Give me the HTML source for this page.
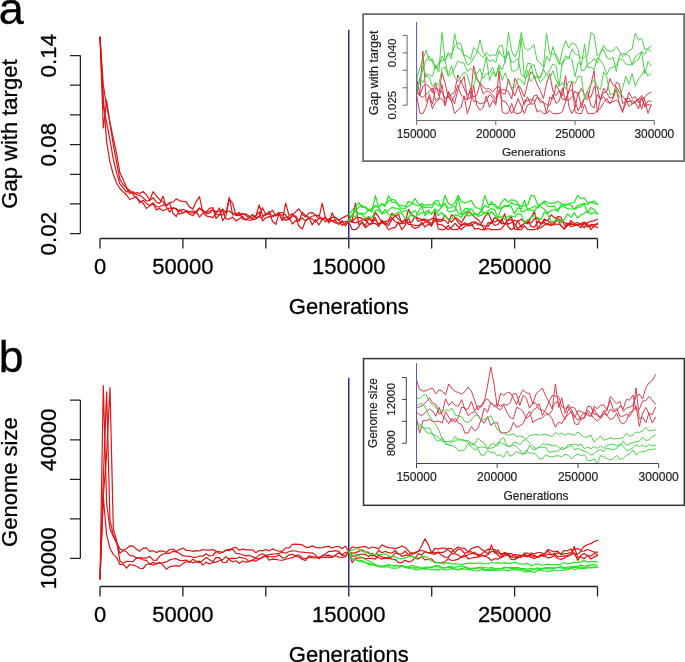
<!DOCTYPE html>
<html><head><meta charset="utf-8"><style>
html,body{margin:0;padding:0;background:#fff;overflow:hidden;}
svg{display:block;will-change:transform;}
text{font-family:"Liberation Sans", sans-serif;}
</style></head><body>
<svg width="685" height="662" viewBox="0 0 685 662" font-family='"Liberation Sans", sans-serif'><path d="M80.4,55.6 L80.4,233.6 M70,233.6 L80.4,233.6 M70,203.9 L80.4,203.9 M70,174.3 L80.4,174.3 M70,144.6 L80.4,144.6 M70,114.9 L80.4,114.9 M70,85.2 L80.4,85.2 M70,55.6 L80.4,55.6 M100.0,238.5 L597.5,238.5 M100.0,238.5 L100.0,248.5 M182.9,238.5 L182.9,248.5 M265.8,238.5 L265.8,248.5 M348.8,238.5 L348.8,248.5 M431.7,238.5 L431.7,248.5 M514.6,238.5 L514.6,248.5 M597.5,238.5 L597.5,248.5" stroke="#222" stroke-width="1.3" fill="none"/>
<text transform="translate(56.4,55.6) rotate(-90)" text-anchor="middle" font-size="22.4" fill="#000" stroke="#000" stroke-width="0.3">0.14</text>
<text transform="translate(56.4,144.6) rotate(-90)" text-anchor="middle" font-size="22.4" fill="#000" stroke="#000" stroke-width="0.3">0.08</text>
<text transform="translate(56.4,233.6) rotate(-90)" text-anchor="middle" font-size="22.4" fill="#000" stroke="#000" stroke-width="0.3">0.02</text>
<text transform="translate(16.9,134.1) rotate(-90)" text-anchor="middle" font-size="22" fill="#000" stroke="#000" stroke-width="0.3">Gap with target</text>
<text x="100.0" y="274.1" text-anchor="middle" font-size="22" fill="#000" stroke="#000" stroke-width="0.3">0</text>
<text x="182.9" y="274.1" text-anchor="middle" font-size="22" fill="#000" stroke="#000" stroke-width="0.3">50000</text>
<text x="348.8" y="274.1" text-anchor="middle" font-size="22" fill="#000" stroke="#000" stroke-width="0.3">150000</text>
<text x="514.6" y="274.1" text-anchor="middle" font-size="22" fill="#000" stroke="#000" stroke-width="0.3">250000</text>
<text x="348.75" y="313.6" text-anchor="middle" font-size="22" fill="#000" stroke="#000" stroke-width="0.3">Generations</text>
<path d="M348.75,29.7 L348.75,238.5" stroke="#2a2aaa" stroke-width="1.5"/>
<path d="M80.4,400.2 L80.4,558.4 M70,558.4 L80.4,558.4 M70,518.9 L80.4,518.9 M70,479.3 L80.4,479.3 M70,439.8 L80.4,439.8 M70,400.2 L80.4,400.2 M100.0,586.5 L597.5,586.5 M100.0,586.5 L100.0,596.5 M182.9,586.5 L182.9,596.5 M265.8,586.5 L265.8,596.5 M348.8,586.5 L348.8,596.5 M431.7,586.5 L431.7,596.5 M514.6,586.5 L514.6,596.5 M597.5,586.5 L597.5,596.5" stroke="#222" stroke-width="1.3" fill="none"/>
<text transform="translate(56.4,439.8) rotate(-90)" text-anchor="middle" font-size="22.4" fill="#000" stroke="#000" stroke-width="0.3">40000</text>
<text transform="translate(56.4,558.4) rotate(-90)" text-anchor="middle" font-size="22.4" fill="#000" stroke="#000" stroke-width="0.3">10000</text>
<text transform="translate(16.9,482.1) rotate(-90)" text-anchor="middle" font-size="22" fill="#000" stroke="#000" stroke-width="0.3">Genome size</text>
<text x="100.0" y="622.1" text-anchor="middle" font-size="22" fill="#000" stroke="#000" stroke-width="0.3">0</text>
<text x="182.9" y="622.1" text-anchor="middle" font-size="22" fill="#000" stroke="#000" stroke-width="0.3">50000</text>
<text x="348.8" y="622.1" text-anchor="middle" font-size="22" fill="#000" stroke="#000" stroke-width="0.3">150000</text>
<text x="514.6" y="622.1" text-anchor="middle" font-size="22" fill="#000" stroke="#000" stroke-width="0.3">250000</text>
<text x="348.75" y="661.6" text-anchor="middle" font-size="22" fill="#000" stroke="#000" stroke-width="0.3">Generations</text>
<path d="M348.75,377.7 L348.75,586.5" stroke="#2a2aaa" stroke-width="1.5"/>
<text x="-1.3" y="24.2" text-anchor="start" font-size="45" fill="#000" stroke="#000" stroke-width="0.3">a</text>
<text x="-1.2" y="372.0" text-anchor="start" font-size="44.5" fill="#000" stroke="#000" stroke-width="0.3">b</text>
<path d="M100.0,37.0 L103.3,128.0 L106.6,100.1 L110.0,123.8 L113.3,144.6 L116.6,162.4 L119.9,179.3 L123.2,184.7 L126.5,187.9 L129.8,193.6 L133.2,191.7 L136.5,194.7 L139.8,195.3 L143.1,197.7 L146.4,201.0 L149.8,200.4 L153.1,197.7 L156.4,202.2 L159.7,203.4 L163.0,196.2 L166.3,206.7 L169.7,212.1 L173.0,207.9 L176.3,209.1 L179.6,214.3 L182.9,212.7 L186.2,211.3 L189.6,214.3 L192.9,215.6 L196.2,211.3 L199.5,207.8 L202.8,210.3 L206.1,212.5 L209.4,211.3 L212.8,209.8 L216.1,211.8 L219.4,211.3 L222.7,209.0 L226.0,212.6 L229.3,197.4 L232.7,214.8 L236.0,215.0 L239.3,212.3 L242.6,219.2 L245.9,219.0 L249.2,220.3 L252.6,219.7 L255.9,219.1 L259.2,216.7 L262.5,217.7 L265.8,213.7 L269.1,214.0 L272.5,215.3 L275.8,215.6 L279.1,214.1 L282.4,220.7 L285.7,217.2 L289.1,216.8 L292.4,224.0 L295.7,220.7 L299.0,220.9 L302.3,218.0 L305.6,221.1 L308.9,218.4 L312.3,218.8 L315.6,222.1 L318.9,218.4 L322.2,203.2 L325.5,218.6 L328.9,220.9 L332.2,217.3 L335.5,217.1 L338.8,220.4 L342.1,218.1 L345.4,216.4 L348.8,214.9 L352.1,222.1 L355.4,218.2 L358.7,217.4 L362.0,218.3 L365.3,220.8 L368.7,216.8 L372.0,222.2 L375.3,212.3 L378.6,216.8 L381.9,222.8 L385.2,221.6 L388.5,220.5 L391.9,213.3 L395.2,216.4 L398.5,214.0 L401.8,223.4 L405.1,223.1 L408.4,209.4 L411.8,214.5 L415.1,217.0 L418.4,221.4 L421.7,220.3 L425.0,220.5 L428.4,221.8 L431.7,223.6 L435.0,220.6 L438.3,219.4 L441.6,219.7 L444.9,220.4 L448.2,223.6 L451.6,214.8 L454.9,217.4 L458.2,219.3 L461.5,222.7 L464.8,217.1 L468.1,212.0 L471.5,213.5 L474.8,217.2 L478.1,219.8 L481.4,223.4 L484.7,217.1 L488.1,212.7 L491.4,220.2 L494.7,222.2 L498.0,220.1 L501.3,223.6 L504.6,223.7 L507.9,224.1 L511.3,222.7 L514.6,220.2 L517.9,221.8 L521.2,219.1 L524.5,222.0 L527.8,220.4 L531.2,226.4 L534.5,227.3 L537.8,221.6 L541.1,223.7 L544.4,220.7 L547.8,220.5 L551.1,214.8 L554.4,217.7 L557.7,218.4 L561.0,220.7 L564.3,222.5 L567.6,223.9 L571.0,223.1 L574.3,225.6 L577.6,224.5 L580.9,223.8 L584.2,222.0 L587.5,224.0 L590.9,229.6 L594.2,226.1 L597.5,222.8" fill="none" stroke="#dc1616" stroke-width="1.2" stroke-linejoin="round" stroke-linecap="round"/>
<path d="M100.0,37.0 L103.3,97.1 L106.6,141.6 L110.0,162.4 L113.3,174.3 L116.6,183.2 L119.9,188.5 L123.2,191.8 L126.5,195.0 L129.8,199.5 L133.2,198.0 L136.5,196.9 L139.8,202.9 L143.1,200.1 L146.4,203.4 L149.8,205.8 L153.1,202.8 L156.4,206.7 L159.7,206.8 L163.0,205.0 L166.3,205.2 L169.7,203.1 L173.0,213.5 L176.3,216.5 L179.6,209.7 L182.9,213.0 L186.2,211.4 L189.6,213.0 L192.9,212.6 L196.2,212.8 L199.5,208.6 L202.8,211.1 L206.1,213.8 L209.4,213.2 L212.8,209.9 L216.1,214.0 L219.4,214.9 L222.7,214.8 L226.0,211.8 L229.3,211.0 L232.7,213.8 L236.0,213.3 L239.3,214.9 L242.6,213.4 L245.9,215.5 L249.2,217.8 L252.6,217.0 L255.9,215.9 L259.2,205.0 L262.5,215.4 L265.8,215.1 L269.1,211.4 L272.5,221.2 L275.8,224.3 L279.1,213.2 L282.4,220.5 L285.7,203.2 L289.1,215.6 L292.4,213.9 L295.7,217.6 L299.0,226.3 L302.3,229.0 L305.6,220.7 L308.9,217.2 L312.3,224.9 L315.6,219.5 L318.9,225.0 L322.2,219.4 L325.5,217.1 L328.9,223.0 L332.2,212.7 L335.5,221.0 L338.8,224.6 L342.1,220.6 L345.4,226.0 L348.8,220.9 L352.1,221.4 L355.4,203.2 L358.7,224.5 L362.0,222.7 L365.3,227.7 L368.7,225.0 L372.0,223.9 L375.3,217.4 L378.6,226.5 L381.9,220.2 L385.2,222.9 L388.5,225.6 L391.9,219.7 L395.2,215.8 L398.5,219.1 L401.8,221.8 L405.1,220.3 L408.4,222.7 L411.8,221.9 L415.1,216.6 L418.4,218.4 L421.7,219.4 L425.0,219.2 L428.4,220.6 L431.7,218.8 L435.0,218.3 L438.3,221.3 L441.6,221.4 L444.9,215.1 L448.2,219.3 L451.6,222.2 L454.9,218.1 L458.2,222.0 L461.5,225.9 L464.8,222.6 L468.1,225.7 L471.5,225.6 L474.8,222.6 L478.1,223.5 L481.4,225.1 L484.7,226.0 L488.1,226.3 L491.4,221.6 L494.7,225.4 L498.0,224.5 L501.3,219.0 L504.6,224.1 L507.9,220.3 L511.3,219.6 L514.6,224.1 L517.9,228.7 L521.2,225.7 L524.5,223.1 L527.8,222.1 L531.2,223.0 L534.5,218.4 L537.8,218.5 L541.1,224.3 L544.4,218.9 L547.8,221.0 L551.1,223.2 L554.4,222.8 L557.7,216.4 L561.0,217.1 L564.3,225.4 L567.6,224.6 L571.0,224.6 L574.3,224.2 L577.6,225.0 L580.9,227.8 L584.2,222.9 L587.5,226.2 L590.9,225.9 L594.2,226.2 L597.5,227.6" fill="none" stroke="#dc1616" stroke-width="1.2" stroke-linejoin="round" stroke-linecap="round"/>
<path d="M100.0,37.0 L103.3,106.0 L106.6,122.3 L110.0,140.1 L113.3,159.4 L116.6,172.8 L119.9,183.8 L123.2,187.9 L126.5,192.1 L129.8,190.4 L133.2,194.7 L136.5,198.1 L139.8,200.7 L143.1,203.1 L146.4,208.5 L149.8,205.6 L153.1,203.8 L156.4,209.9 L159.7,208.4 L163.0,210.7 L166.3,209.2 L169.7,208.0 L173.0,208.2 L176.3,208.7 L179.6,211.0 L182.9,209.4 L186.2,210.5 L189.6,211.7 L192.9,210.7 L196.2,211.9 L199.5,217.1 L202.8,213.1 L206.1,215.9 L209.4,216.6 L212.8,217.6 L216.1,212.8 L219.4,208.0 L222.7,220.8 L226.0,215.5 L229.3,199.0 L232.7,203.3 L236.0,215.7 L239.3,215.4 L242.6,214.4 L245.9,213.9 L249.2,216.1 L252.6,219.2 L255.9,215.8 L259.2,211.8 L262.5,220.8 L265.8,217.7 L269.1,216.6 L272.5,217.0 L275.8,214.5 L279.1,212.6 L282.4,212.7 L285.7,215.1 L289.1,219.8 L292.4,215.1 L295.7,211.9 L299.0,208.8 L302.3,214.5 L305.6,216.9 L308.9,213.2 L312.3,212.7 L315.6,215.1 L318.9,215.6 L322.2,220.0 L325.5,217.8 L328.9,221.5 L332.2,220.8 L335.5,220.0 L338.8,219.3 L342.1,225.4 L345.4,223.6 L348.8,220.0 L352.1,222.2 L355.4,222.9 L358.7,221.6 L362.0,220.3 L365.3,218.8 L368.7,224.0 L372.0,223.2 L375.3,223.6 L378.6,225.8 L381.9,220.9 L385.2,224.7 L388.5,222.2 L391.9,217.7 L395.2,221.7 L398.5,222.9 L401.8,224.0 L405.1,219.0 L408.4,224.5 L411.8,224.5 L415.1,225.6 L418.4,225.3 L421.7,224.7 L425.0,221.7 L428.4,222.9 L431.7,225.1 L435.0,219.6 L438.3,224.4 L441.6,224.7 L444.9,226.7 L448.2,229.7 L451.6,227.4 L454.9,223.3 L458.2,226.5 L461.5,229.7 L464.8,226.1 L468.1,225.5 L471.5,222.2 L474.8,221.8 L478.1,225.0 L481.4,224.8 L484.7,229.5 L488.1,222.7 L491.4,223.6 L494.7,217.4 L498.0,220.0 L501.3,222.2 L504.6,213.6 L507.9,226.5 L511.3,229.7 L514.6,227.2 L517.9,220.6 L521.2,227.3 L524.5,223.1 L527.8,223.7 L531.2,217.3 L534.5,211.4 L537.8,229.3 L541.1,223.8 L544.4,222.6 L547.8,224.7 L551.1,225.2 L554.4,224.7 L557.7,224.0 L561.0,225.3 L564.3,229.3 L567.6,223.1 L571.0,226.8 L574.3,225.7 L577.6,225.1 L580.9,223.4 L584.2,227.9 L587.5,222.6 L590.9,221.3 L594.2,220.6 L597.5,219.3" fill="none" stroke="#dc1616" stroke-width="1.2" stroke-linejoin="round" stroke-linecap="round"/>
<path d="M100.0,37.0 L103.3,85.2 L106.6,106.0 L110.0,122.3 L113.3,138.7 L116.6,153.5 L119.9,172.8 L123.2,179.8 L126.5,187.4 L129.8,190.9 L133.2,194.0 L136.5,192.7 L139.8,193.4 L143.1,191.5 L146.4,194.9 L149.8,200.2 L153.1,191.7 L156.4,196.0 L159.7,199.7 L163.0,201.8 L166.3,206.0 L169.7,202.4 L173.0,202.1 L176.3,198.8 L179.6,200.8 L182.9,201.4 L186.2,201.9 L189.6,207.1 L192.9,208.9 L196.2,201.6 L199.5,196.6 L202.8,211.9 L206.1,212.2 L209.4,208.4 L212.8,207.7 L216.1,218.5 L219.4,214.6 L222.7,210.5 L226.0,219.1 L229.3,219.2 L232.7,217.0 L236.0,221.1 L239.3,218.7 L242.6,216.5 L245.9,220.2 L249.2,217.2 L252.6,214.5 L255.9,217.8 L259.2,216.2 L262.5,207.7 L265.8,214.4 L269.1,214.2 L272.5,210.2 L275.8,216.0 L279.1,214.0 L282.4,215.3 L285.7,220.6 L289.1,218.3 L292.4,216.1 L295.7,216.2 L299.0,221.2 L302.3,212.2 L305.6,215.6 L308.9,217.8 L312.3,216.3 L315.6,215.3 L318.9,218.8 L322.2,218.1 L325.5,221.8 L328.9,218.6 L332.2,221.1 L335.5,222.9 L338.8,223.1 L342.1,222.4 L345.4,221.5 L348.8,221.7 L352.1,229.5 L355.4,229.7 L358.7,227.0 L362.0,221.5 L365.3,225.8 L368.7,218.7 L372.0,219.9 L375.3,220.4 L378.6,223.6 L381.9,222.6 L385.2,224.4 L388.5,229.7 L391.9,228.2 L395.2,227.3 L398.5,222.2 L401.8,229.7 L405.1,225.7 L408.4,217.6 L411.8,226.4 L415.1,228.4 L418.4,227.2 L421.7,222.2 L425.0,227.1 L428.4,224.3 L431.7,226.1 L435.0,211.6 L438.3,229.0 L441.6,229.7 L444.9,229.4 L448.2,225.4 L451.6,229.5 L454.9,229.7 L458.2,229.2 L461.5,224.1 L464.8,224.3 L468.1,223.8 L471.5,223.9 L474.8,229.1 L478.1,228.4 L481.4,229.7 L484.7,229.7 L488.1,228.4 L491.4,229.7 L494.7,229.7 L498.0,229.7 L501.3,228.9 L504.6,224.7 L507.9,220.0 L511.3,216.1 L514.6,229.1 L517.9,229.7 L521.2,229.7 L524.5,225.8 L527.8,229.7 L531.2,229.7 L534.5,229.7 L537.8,228.5 L541.1,227.6 L544.4,225.1 L547.8,223.3 L551.1,225.6 L554.4,223.3 L557.7,219.4 L561.0,225.9 L564.3,228.7 L567.6,225.7 L571.0,220.7 L574.3,223.4 L577.6,222.5 L580.9,225.2 L584.2,223.0 L587.5,227.0 L590.9,224.4 L594.2,224.6 L597.5,224.3" fill="none" stroke="#dc1616" stroke-width="1.2" stroke-linejoin="round" stroke-linecap="round"/>
<path d="M348.8,214.9 L352.1,210.4 L355.4,206.6 L358.7,202.7 L362.0,207.3 L365.3,206.6 L368.7,210.5 L372.0,210.0 L375.3,205.4 L378.6,207.2 L381.9,203.6 L385.2,205.0 L388.5,201.0 L391.9,199.5 L395.2,200.2 L398.5,205.0 L401.8,205.3 L405.1,206.7 L408.4,201.6 L411.8,202.9 L415.1,204.7 L418.4,206.0 L421.7,203.7 L425.0,205.3 L428.4,204.7 L431.7,205.1 L435.0,201.1 L438.3,200.7 L441.6,208.0 L444.9,195.3 L448.2,203.1 L451.6,205.7 L454.9,202.9 L458.2,195.3 L461.5,201.6 L464.8,202.9 L468.1,202.0 L471.5,200.4 L474.8,207.0 L478.1,208.3 L481.4,210.0 L484.7,195.6 L488.1,204.3 L491.4,204.4 L494.7,204.5 L498.0,207.5 L501.3,209.2 L504.6,205.1 L507.9,206.6 L511.3,202.4 L514.6,204.4 L517.9,204.9 L521.2,206.1 L524.5,205.9 L527.8,204.8 L531.2,195.3 L534.5,196.2 L537.8,205.3 L541.1,203.9 L544.4,202.3 L547.8,206.1 L551.1,206.7 L554.4,205.8 L557.7,211.9 L561.0,204.9 L564.3,204.3 L567.6,204.1 L571.0,203.0 L574.3,202.2 L577.6,195.5 L580.9,198.6 L584.2,197.8 L587.5,202.5 L590.9,202.2 L594.2,203.5 L597.5,203.8" fill="none" stroke="#22e622" stroke-width="1.2" stroke-linejoin="round" stroke-linecap="round"/>
<path d="M348.8,220.9 L352.1,214.3 L355.4,211.2 L358.7,207.0 L362.0,205.2 L365.3,207.8 L368.7,210.8 L372.0,208.0 L375.3,207.0 L378.6,207.0 L381.9,204.4 L385.2,206.4 L388.5,195.8 L391.9,202.1 L395.2,202.4 L398.5,205.6 L401.8,209.0 L405.1,208.5 L408.4,206.1 L411.8,204.0 L415.1,198.5 L418.4,203.8 L421.7,205.6 L425.0,207.6 L428.4,207.0 L431.7,208.0 L435.0,203.0 L438.3,205.4 L441.6,205.8 L444.9,203.7 L448.2,208.1 L451.6,207.5 L454.9,206.2 L458.2,213.2 L461.5,214.1 L464.8,208.5 L468.1,208.4 L471.5,214.8 L474.8,214.2 L478.1,214.6 L481.4,211.1 L484.7,205.4 L488.1,207.5 L491.4,201.3 L494.7,206.1 L498.0,208.9 L501.3,202.9 L504.6,198.8 L507.9,201.9 L511.3,199.8 L514.6,200.3 L517.9,202.5 L521.2,211.6 L524.5,211.2 L527.8,208.8 L531.2,208.0 L534.5,206.3 L537.8,208.2 L541.1,204.2 L544.4,200.8 L547.8,202.8 L551.1,203.3 L554.4,203.1 L557.7,201.4 L561.0,203.3 L564.3,205.6 L567.6,204.5 L571.0,205.0 L574.3,209.1 L577.6,205.6 L580.9,204.6 L584.2,203.4 L587.5,204.7 L590.9,202.0 L594.2,201.1 L597.5,204.6" fill="none" stroke="#22e622" stroke-width="1.2" stroke-linejoin="round" stroke-linecap="round"/>
<path d="M348.8,220.0 L352.1,215.2 L355.4,216.6 L358.7,213.2 L362.0,213.3 L365.3,214.0 L368.7,209.2 L372.0,212.1 L375.3,195.3 L378.6,207.3 L381.9,213.6 L385.2,209.3 L388.5,214.3 L391.9,216.2 L395.2,214.0 L398.5,212.2 L401.8,213.4 L405.1,218.5 L408.4,217.9 L411.8,212.7 L415.1,210.6 L418.4,214.8 L421.7,212.8 L425.0,212.5 L428.4,210.1 L431.7,213.9 L435.0,208.9 L438.3,211.2 L441.6,207.0 L444.9,203.1 L448.2,211.6 L451.6,211.7 L454.9,210.6 L458.2,197.5 L461.5,214.6 L464.8,213.9 L468.1,209.8 L471.5,208.8 L474.8,213.3 L478.1,214.6 L481.4,210.9 L484.7,213.3 L488.1,211.1 L491.4,208.6 L494.7,209.6 L498.0,218.1 L501.3,207.5 L504.6,206.8 L507.9,205.6 L511.3,206.8 L514.6,214.0 L517.9,207.9 L521.2,209.1 L524.5,200.2 L527.8,210.2 L531.2,210.0 L534.5,211.1 L537.8,206.0 L541.1,207.0 L544.4,209.3 L547.8,213.2 L551.1,210.5 L554.4,210.1 L557.7,209.3 L561.0,206.5 L564.3,206.7 L567.6,208.7 L571.0,209.0 L574.3,209.1 L577.6,207.6 L580.9,206.8 L584.2,203.5 L587.5,212.9 L590.9,207.6 L594.2,209.5 L597.5,214.2" fill="none" stroke="#22e622" stroke-width="1.2" stroke-linejoin="round" stroke-linecap="round"/>
<path d="M348.8,221.7 L352.1,215.2 L355.4,209.6 L358.7,214.0 L362.0,214.2 L365.3,218.2 L368.7,216.5 L372.0,217.7 L375.3,210.6 L378.6,209.9 L381.9,213.9 L385.2,212.6 L388.5,210.4 L391.9,207.4 L395.2,208.1 L398.5,208.3 L401.8,211.9 L405.1,210.5 L408.4,211.7 L411.8,215.4 L415.1,217.4 L418.4,211.7 L421.7,205.7 L425.0,215.7 L428.4,212.0 L431.7,214.2 L435.0,209.9 L438.3,215.6 L441.6,212.4 L444.9,216.5 L448.2,218.7 L451.6,218.8 L454.9,214.7 L458.2,215.6 L461.5,217.5 L464.8,211.5 L468.1,216.1 L471.5,214.7 L474.8,213.6 L478.1,216.5 L481.4,214.9 L484.7,213.1 L488.1,215.0 L491.4,211.5 L494.7,215.5 L498.0,218.2 L501.3,216.4 L504.6,219.2 L507.9,216.2 L511.3,216.0 L514.6,217.0 L517.9,213.7 L521.2,214.1 L524.5,223.9 L527.8,219.7 L531.2,217.4 L534.5,215.2 L537.8,217.9 L541.1,219.6 L544.4,212.1 L547.8,214.3 L551.1,221.8 L554.4,221.4 L557.7,219.1 L561.0,223.0 L564.3,219.1 L567.6,213.9 L571.0,217.3 L574.3,212.7 L577.6,218.1 L580.9,215.0 L584.2,213.3 L587.5,211.1 L590.9,214.0 L594.2,212.5 L597.5,213.6" fill="none" stroke="#22e622" stroke-width="1.2" stroke-linejoin="round" stroke-linecap="round"/>
<path d="M100.0,578.9 L103.3,385.6 L106.6,503.0 L110.0,528.7 L113.3,536.6 L116.6,542.6 L119.9,548.9 L123.2,550.2 L126.5,548.7 L129.8,545.8 L133.2,546.1 L136.5,549.2 L139.8,551.2 L143.1,548.1 L146.4,547.8 L149.8,551.4 L153.1,550.7 L156.4,552.6 L159.7,550.9 L163.0,551.1 L166.3,552.3 L169.7,549.5 L173.0,549.0 L176.3,551.5 L179.6,549.4 L182.9,548.0 L186.2,550.5 L189.6,550.5 L192.9,551.4 L196.2,550.6 L199.5,551.0 L202.8,549.5 L206.1,550.1 L209.4,550.2 L212.8,549.6 L216.1,551.0 L219.4,551.7 L222.7,552.3 L226.0,550.1 L229.3,550.7 L232.7,548.0 L236.0,547.4 L239.3,550.3 L242.6,549.1 L245.9,549.8 L249.2,549.8 L252.6,549.9 L255.9,552.7 L259.2,550.5 L262.5,550.9 L265.8,549.5 L269.1,550.9 L272.5,548.9 L275.8,550.2 L279.1,551.2 L282.4,551.2 L285.7,547.9 L289.1,548.0 L292.4,544.4 L295.7,544.2 L299.0,544.3 L302.3,544.8 L305.6,547.3 L308.9,547.4 L312.3,545.9 L315.6,547.4 L318.9,547.8 L322.2,547.6 L325.5,546.8 L328.9,546.4 L332.2,548.0 L335.5,546.7 L338.8,546.6 L342.1,548.7 L345.4,546.1 L348.8,551.5 L352.1,546.9 L355.4,547.5 L358.7,547.3 L362.0,546.8 L365.3,546.4 L368.7,548.5 L372.0,547.0 L375.3,547.6 L378.6,548.8 L381.9,544.9 L385.2,546.6 L388.5,547.6 L391.9,548.0 L395.2,548.6 L398.5,547.7 L401.8,546.0 L405.1,547.5 L408.4,550.8 L411.8,554.4 L415.1,552.6 L418.4,551.0 L421.7,550.3 L425.0,551.8 L428.4,552.9 L431.7,552.2 L435.0,552.9 L438.3,552.1 L441.6,552.6 L444.9,551.7 L448.2,548.4 L451.6,548.5 L454.9,552.7 L458.2,549.0 L461.5,550.0 L464.8,553.6 L468.1,551.7 L471.5,551.9 L474.8,554.2 L478.1,554.4 L481.4,555.2 L484.7,556.0 L488.1,554.5 L491.4,544.9 L494.7,553.4 L498.0,549.9 L501.3,555.5 L504.6,552.4 L507.9,554.1 L511.3,556.7 L514.6,558.0 L517.9,556.5 L521.2,555.3 L524.5,556.3 L527.8,556.6 L531.2,553.0 L534.5,553.9 L537.8,552.5 L541.1,552.5 L544.4,554.6 L547.8,549.4 L551.1,550.8 L554.4,551.9 L557.7,551.2 L561.0,554.8 L564.3,553.6 L567.6,553.3 L571.0,552.7 L574.3,549.3 L577.6,548.6 L580.9,550.3 L584.2,546.4 L587.5,544.5 L590.9,543.7 L594.2,541.5 L597.5,540.4" fill="none" stroke="#dc1616" stroke-width="1.2" stroke-linejoin="round" stroke-linecap="round"/>
<path d="M100.0,578.9 L103.3,479.3 L106.6,391.9 L110.0,520.8 L113.3,534.7 L116.6,543.4 L119.9,553.2 L123.2,550.5 L126.5,551.8 L129.8,555.3 L133.2,555.9 L136.5,558.1 L139.8,557.9 L143.1,557.8 L146.4,558.2 L149.8,556.4 L153.1,560.1 L156.4,560.4 L159.7,556.1 L163.0,554.2 L166.3,553.1 L169.7,553.3 L173.0,551.3 L176.3,551.9 L179.6,553.5 L182.9,555.7 L186.2,556.1 L189.6,556.3 L192.9,557.3 L196.2,557.3 L199.5,556.0 L202.8,556.2 L206.1,553.7 L209.4,556.0 L212.8,555.5 L216.1,551.5 L219.4,553.5 L222.7,552.2 L226.0,550.3 L229.3,549.3 L232.7,549.2 L236.0,553.4 L239.3,553.7 L242.6,554.7 L245.9,555.9 L249.2,555.3 L252.6,556.9 L255.9,557.9 L259.2,555.1 L262.5,553.8 L265.8,555.6 L269.1,554.7 L272.5,554.2 L275.8,553.8 L279.1,553.3 L282.4,552.3 L285.7,553.3 L289.1,551.5 L292.4,550.9 L295.7,551.0 L299.0,552.0 L302.3,552.2 L305.6,552.5 L308.9,552.9 L312.3,552.9 L315.6,555.1 L318.9,558.8 L322.2,555.6 L325.5,554.1 L328.9,551.3 L332.2,551.3 L335.5,550.7 L338.8,551.3 L342.1,555.0 L345.4,552.6 L348.8,551.5 L352.1,553.1 L355.4,552.6 L358.7,551.4 L362.0,549.9 L365.3,551.8 L368.7,552.3 L372.0,555.8 L375.3,555.2 L378.6,550.3 L381.9,552.7 L385.2,551.3 L388.5,552.9 L391.9,552.9 L395.2,550.5 L398.5,554.2 L401.8,553.9 L405.1,551.2 L408.4,554.7 L411.8,552.8 L415.1,553.3 L418.4,551.5 L421.7,545.7 L425.0,538.8 L428.4,544.9 L431.7,553.2 L435.0,548.3 L438.3,549.1 L441.6,548.1 L444.9,548.1 L448.2,550.0 L451.6,552.4 L454.9,549.1 L458.2,547.1 L461.5,548.2 L464.8,548.4 L468.1,552.2 L471.5,548.5 L474.8,547.4 L478.1,546.4 L481.4,549.2 L484.7,551.4 L488.1,549.1 L491.4,549.3 L494.7,549.5 L498.0,553.1 L501.3,553.7 L504.6,553.3 L507.9,555.4 L511.3,557.0 L514.6,554.6 L517.9,554.8 L521.2,555.6 L524.5,555.6 L527.8,556.7 L531.2,553.9 L534.5,556.4 L537.8,556.8 L541.1,554.5 L544.4,556.3 L547.8,554.0 L551.1,555.0 L554.4,554.6 L557.7,552.9 L561.0,553.9 L564.3,550.5 L567.6,550.8 L571.0,548.9 L574.3,554.4 L577.6,554.1 L580.9,551.2 L584.2,550.9 L587.5,549.5 L590.9,550.7 L594.2,552.2 L597.5,552.2" fill="none" stroke="#dc1616" stroke-width="1.2" stroke-linejoin="round" stroke-linecap="round"/>
<path d="M100.0,578.9 L103.3,495.1 L106.6,455.6 L110.0,387.5 L113.3,528.7 L116.6,540.6 L119.9,560.9 L123.2,563.2 L126.5,561.3 L129.8,561.5 L133.2,561.6 L136.5,557.6 L139.8,558.4 L143.1,559.8 L146.4,560.3 L149.8,564.1 L153.1,562.4 L156.4,563.9 L159.7,563.0 L163.0,562.6 L166.3,561.9 L169.7,559.9 L173.0,559.0 L176.3,558.7 L179.6,560.4 L182.9,560.7 L186.2,560.1 L189.6,562.7 L192.9,559.2 L196.2,561.4 L199.5,562.7 L202.8,560.4 L206.1,557.5 L209.4,559.5 L212.8,562.1 L216.1,557.3 L219.4,557.6 L222.7,562.3 L226.0,562.5 L229.3,558.6 L232.7,558.2 L236.0,558.5 L239.3,557.3 L242.6,557.8 L245.9,558.8 L249.2,561.6 L252.6,560.3 L255.9,561.1 L259.2,559.1 L262.5,557.5 L265.8,556.3 L269.1,556.7 L272.5,556.9 L275.8,556.7 L279.1,554.7 L282.4,557.8 L285.7,557.5 L289.1,554.8 L292.4,554.3 L295.7,556.1 L299.0,557.3 L302.3,559.4 L305.6,560.3 L308.9,555.8 L312.3,556.5 L315.6,557.2 L318.9,557.8 L322.2,557.5 L325.5,557.4 L328.9,557.2 L332.2,557.4 L335.5,555.0 L338.8,552.7 L342.1,555.3 L345.4,555.9 L348.8,551.5 L352.1,556.2 L355.4,556.1 L358.7,554.9 L362.0,554.0 L365.3,554.6 L368.7,556.6 L372.0,553.3 L375.3,556.4 L378.6,557.5 L381.9,559.3 L385.2,557.3 L388.5,558.8 L391.9,556.8 L395.2,553.2 L398.5,553.6 L401.8,556.4 L405.1,555.4 L408.4,554.8 L411.8,556.2 L415.1,558.0 L418.4,553.6 L421.7,555.2 L425.0,551.5 L428.4,552.7 L431.7,553.6 L435.0,554.3 L438.3,552.5 L441.6,555.3 L444.9,557.1 L448.2,557.5 L451.6,553.4 L454.9,553.8 L458.2,554.9 L461.5,557.4 L464.8,556.6 L468.1,554.4 L471.5,553.7 L474.8,552.0 L478.1,556.3 L481.4,554.0 L484.7,551.4 L488.1,553.9 L491.4,551.5 L494.7,551.4 L498.0,555.3 L501.3,557.8 L504.6,554.2 L507.9,553.3 L511.3,553.6 L514.6,555.8 L517.9,557.9 L521.2,556.8 L524.5,553.0 L527.8,553.1 L531.2,556.0 L534.5,555.6 L537.8,557.4 L541.1,555.6 L544.4,554.1 L547.8,550.8 L551.1,554.5 L554.4,553.7 L557.7,556.6 L561.0,556.5 L564.3,555.8 L567.6,556.6 L571.0,554.6 L574.3,546.4 L577.6,557.5 L580.9,556.9 L584.2,558.9 L587.5,555.4 L590.9,556.1 L594.2,553.4 L597.5,554.5" fill="none" stroke="#dc1616" stroke-width="1.2" stroke-linejoin="round" stroke-linecap="round"/>
<path d="M100.0,578.9 L103.3,497.1 L106.6,534.7 L110.0,548.5 L113.3,554.4 L116.6,557.6 L119.9,564.5 L123.2,564.4 L126.5,568.2 L129.8,564.5 L133.2,565.1 L136.5,566.3 L139.8,568.3 L143.1,568.5 L146.4,564.5 L149.8,563.7 L153.1,565.3 L156.4,563.4 L159.7,562.4 L163.0,565.2 L166.3,569.2 L169.7,566.7 L173.0,566.2 L176.3,565.7 L179.6,566.3 L182.9,563.6 L186.2,561.8 L189.6,561.3 L192.9,562.8 L196.2,561.9 L199.5,561.1 L202.8,565.1 L206.1,562.2 L209.4,563.9 L212.8,562.7 L216.1,562.1 L219.4,560.7 L222.7,559.6 L226.0,556.7 L229.3,559.5 L232.7,562.0 L236.0,560.7 L239.3,563.3 L242.6,561.0 L245.9,562.3 L249.2,561.5 L252.6,559.8 L255.9,558.3 L259.2,559.0 L262.5,556.9 L265.8,555.7 L269.1,560.1 L272.5,559.2 L275.8,559.4 L279.1,560.0 L282.4,560.3 L285.7,559.1 L289.1,558.5 L292.4,557.7 L295.7,555.7 L299.0,555.0 L302.3,558.0 L305.6,558.5 L308.9,557.1 L312.3,557.8 L315.6,558.0 L318.9,557.2 L322.2,556.0 L325.5,555.8 L328.9,555.1 L332.2,556.5 L335.5,555.8 L338.8,557.1 L342.1,557.5 L345.4,557.0 L348.8,551.5 L352.1,562.6 L355.4,558.1 L358.7,558.2 L362.0,557.6 L365.3,558.5 L368.7,558.4 L372.0,558.4 L375.3,559.1 L378.6,554.9 L381.9,556.9 L385.2,558.6 L388.5,557.4 L391.9,559.1 L395.2,559.5 L398.5,562.6 L401.8,562.6 L405.1,560.2 L408.4,561.9 L411.8,561.0 L415.1,557.9 L418.4,559.1 L421.7,556.7 L425.0,559.9 L428.4,559.0 L431.7,558.9 L435.0,562.6 L438.3,562.6 L441.6,562.5 L444.9,561.9 L448.2,558.8 L451.6,560.5 L454.9,560.1 L458.2,559.2 L461.5,556.7 L464.8,554.7 L468.1,558.9 L471.5,558.0 L474.8,557.4 L478.1,557.1 L481.4,556.0 L484.7,556.0 L488.1,557.5 L491.4,560.5 L494.7,558.7 L498.0,559.2 L501.3,557.1 L504.6,556.0 L507.9,554.9 L511.3,559.3 L514.6,559.7 L517.9,557.2 L521.2,557.3 L524.5,554.4 L527.8,555.8 L531.2,557.4 L534.5,558.4 L537.8,557.2 L541.1,555.7 L544.4,556.3 L547.8,557.8 L551.1,557.4 L554.4,555.4 L557.7,558.5 L561.0,559.4 L564.3,558.2 L567.6,555.2 L571.0,554.8 L574.3,552.9 L577.6,560.3 L580.9,555.6 L584.2,553.4 L587.5,555.6 L590.9,559.0 L594.2,556.9 L597.5,555.6" fill="none" stroke="#dc1616" stroke-width="1.2" stroke-linejoin="round" stroke-linecap="round"/>
<path d="M348.8,551.5 L352.1,550.3 L355.4,549.0 L358.7,548.8 L362.0,551.2 L365.3,552.4 L368.7,553.4 L372.0,554.5 L375.3,554.6 L378.6,554.2 L381.9,554.5 L385.2,553.6 L388.5,556.2 L391.9,556.5 L395.2,556.8 L398.5,558.5 L401.8,558.8 L405.1,557.9 L408.4,556.5 L411.8,556.2 L415.1,558.0 L418.4,557.7 L421.7,557.2 L425.0,556.3 L428.4,558.8 L431.7,561.4 L435.0,562.0 L438.3,562.7 L441.6,563.2 L444.9,563.3 L448.2,562.9 L451.6,563.9 L454.9,563.7 L458.2,564.0 L461.5,564.9 L464.8,563.6 L468.1,563.3 L471.5,563.2 L474.8,563.4 L478.1,563.1 L481.4,563.1 L484.7,563.5 L488.1,563.8 L491.4,562.5 L494.7,563.2 L498.0,562.6 L501.3,563.5 L504.6,562.7 L507.9,563.3 L511.3,563.4 L514.6,562.3 L517.9,563.4 L521.2,564.2 L524.5,564.0 L527.8,563.4 L531.2,566.0 L534.5,564.8 L537.8,563.7 L541.1,565.2 L544.4,564.9 L547.8,564.2 L551.1,564.8 L554.4,564.6 L557.7,564.6 L561.0,564.3 L564.3,562.7 L567.6,563.8 L571.0,563.4 L574.3,562.3 L577.6,562.4 L580.9,561.9 L584.2,560.6 L587.5,561.9 L590.9,561.7 L594.2,561.5 L597.5,562.2" fill="none" stroke="#22e622" stroke-width="1.2" stroke-linejoin="round" stroke-linecap="round"/>
<path d="M348.8,551.5 L352.1,553.9 L355.4,554.0 L358.7,555.8 L362.0,557.8 L365.3,559.4 L368.7,560.8 L372.0,562.5 L375.3,564.9 L378.6,566.6 L381.9,566.8 L385.2,565.9 L388.5,565.6 L391.9,565.3 L395.2,565.8 L398.5,565.8 L401.8,565.6 L405.1,566.5 L408.4,567.0 L411.8,565.4 L415.1,566.4 L418.4,567.0 L421.7,568.3 L425.0,567.2 L428.4,567.0 L431.7,567.7 L435.0,565.8 L438.3,565.4 L441.6,567.6 L444.9,567.9 L448.2,566.7 L451.6,566.6 L454.9,567.5 L458.2,566.6 L461.5,566.0 L464.8,566.7 L468.1,567.8 L471.5,568.5 L474.8,568.2 L478.1,567.3 L481.4,567.3 L484.7,567.5 L488.1,568.0 L491.4,567.7 L494.7,568.3 L498.0,568.8 L501.3,568.5 L504.6,567.4 L507.9,567.5 L511.3,567.3 L514.6,567.7 L517.9,567.4 L521.2,568.7 L524.5,568.5 L527.8,569.1 L531.2,568.4 L534.5,569.0 L537.8,567.9 L541.1,568.7 L544.4,567.8 L547.8,567.7 L551.1,567.6 L554.4,567.8 L557.7,567.7 L561.0,566.4 L564.3,567.8 L567.6,567.1 L571.0,566.7 L574.3,566.4 L577.6,566.3 L580.9,565.1 L584.2,566.0 L587.5,565.7 L590.9,564.9 L594.2,564.4 L597.5,566.0" fill="none" stroke="#22e622" stroke-width="1.2" stroke-linejoin="round" stroke-linecap="round"/>
<path d="M348.8,551.5 L352.1,558.6 L355.4,559.7 L358.7,560.3 L362.0,560.5 L365.3,562.6 L368.7,563.3 L372.0,564.4 L375.3,565.4 L378.6,565.9 L381.9,566.0 L385.2,565.7 L388.5,564.5 L391.9,565.7 L395.2,565.4 L398.5,565.7 L401.8,565.8 L405.1,566.8 L408.4,567.2 L411.8,567.6 L415.1,567.8 L418.4,567.9 L421.7,568.3 L425.0,568.1 L428.4,567.9 L431.7,566.9 L435.0,566.5 L438.3,566.9 L441.6,567.5 L444.9,568.0 L448.2,567.2 L451.6,567.6 L454.9,568.7 L458.2,569.7 L461.5,569.3 L464.8,567.3 L468.1,568.6 L471.5,568.6 L474.8,568.3 L478.1,568.2 L481.4,567.9 L484.7,569.4 L488.1,569.5 L491.4,569.1 L494.7,569.2 L498.0,568.3 L501.3,568.5 L504.6,567.9 L507.9,567.6 L511.3,568.7 L514.6,568.3 L517.9,568.8 L521.2,569.2 L524.5,569.8 L527.8,570.6 L531.2,570.1 L534.5,569.5 L537.8,568.7 L541.1,569.4 L544.4,568.4 L547.8,568.7 L551.1,568.8 L554.4,568.4 L557.7,567.2 L561.0,567.8 L564.3,568.9 L567.6,568.7 L571.0,567.8 L574.3,567.2 L577.6,567.6 L580.9,567.0 L584.2,567.6 L587.5,566.8 L590.9,567.0 L594.2,566.8 L597.5,567.6" fill="none" stroke="#22e622" stroke-width="1.2" stroke-linejoin="round" stroke-linecap="round"/>
<path d="M348.8,551.5 L352.1,559.1 L355.4,559.5 L358.7,561.2 L362.0,561.8 L365.3,562.3 L368.7,564.4 L372.0,565.1 L375.3,564.5 L378.6,566.1 L381.9,566.9 L385.2,566.8 L388.5,567.0 L391.9,568.2 L395.2,568.1 L398.5,567.8 L401.8,566.1 L405.1,567.4 L408.4,568.3 L411.8,567.8 L415.1,569.7 L418.4,569.8 L421.7,568.7 L425.0,569.2 L428.4,569.0 L431.7,569.9 L435.0,569.3 L438.3,570.1 L441.6,568.7 L444.9,570.2 L448.2,569.5 L451.6,568.7 L454.9,569.5 L458.2,569.8 L461.5,568.4 L464.8,569.1 L468.1,569.4 L471.5,569.8 L474.8,571.0 L478.1,570.9 L481.4,569.7 L484.7,570.4 L488.1,570.6 L491.4,570.2 L494.7,570.3 L498.0,570.5 L501.3,569.9 L504.6,569.8 L507.9,570.9 L511.3,570.0 L514.6,569.7 L517.9,570.2 L521.2,570.0 L524.5,571.7 L527.8,571.9 L531.2,571.2 L534.5,572.7 L537.8,570.1 L541.1,570.6 L544.4,571.0 L547.8,571.3 L551.1,570.9 L554.4,570.0 L557.7,571.0 L561.0,570.5 L564.3,570.1 L567.6,569.6 L571.0,568.3 L574.3,569.6 L577.6,568.9 L580.9,568.5 L584.2,568.6 L587.5,567.9 L590.9,567.9 L594.2,567.6 L597.5,567.5" fill="none" stroke="#22e622" stroke-width="1.2" stroke-linejoin="round" stroke-linecap="round"/>
<rect x="363.1" y="14.1" width="321.0" height="147.0" fill="#fff" stroke="#666" stroke-width="1.7"/>
<path d="M416.6,78.7 L419.8,95.7 L422.9,86.4 L426.1,84.4 L429.3,86.6 L432.4,92.6 L435.6,83.1 L438.8,95.8 L442.0,72.6 L445.1,83.1 L448.3,97.2 L451.5,94.4 L454.6,91.9 L457.8,74.9 L461.0,82.2 L464.1,76.5 L467.3,98.7 L470.5,97.9 L473.6,65.7 L476.8,77.8 L480.0,83.5 L483.2,94.0 L486.3,91.3 L489.5,91.8 L492.7,94.9 L495.8,99.2 L499.0,92.2 L502.2,89.3 L505.3,90.0 L508.5,91.5 L511.7,99.0 L514.8,78.4 L518.0,84.6 L521.2,89.1 L524.4,97.0 L527.5,83.8 L530.7,71.8 L533.9,75.3 L537.0,84.0 L540.2,90.2 L543.4,98.6 L546.5,83.9 L549.7,73.4 L552.9,91.2 L556.1,95.7 L559.2,90.8 L562.4,99.2 L565.6,99.4 L568.7,100.4 L571.9,97.0 L575.1,91.2 L578.2,94.9 L581.4,88.5 L584.6,95.4 L587.7,91.5 L590.9,105.7 L594.1,107.9 L597.3,94.5 L600.4,99.4 L603.6,92.4 L606.8,91.9 L609.9,78.5 L613.1,85.2 L616.3,86.8 L619.4,92.4 L622.6,96.4 L625.8,99.8 L628.9,97.9 L632.1,103.9 L635.3,101.2 L638.5,99.6 L641.6,95.4 L644.8,100.0 L648.0,113.3 L651.1,104.9" fill="none" stroke="#d83444" stroke-width="0.95" stroke-linejoin="round" stroke-linecap="round"/>
<path d="M416.6,92.9 L419.8,94.0 L422.9,51.1 L426.1,101.2 L429.3,97.0 L432.4,108.7 L435.6,102.3 L438.8,99.7 L442.0,84.5 L445.1,106.1 L448.3,91.1 L451.5,97.4 L454.6,103.8 L457.8,90.0 L461.0,80.7 L464.1,88.6 L467.3,95.0 L470.5,91.3 L473.6,96.9 L476.8,95.1 L480.0,82.8 L483.2,86.9 L486.3,89.2 L489.5,88.7 L492.7,92.1 L495.8,87.9 L499.0,86.6 L502.2,93.7 L505.3,94.0 L508.5,79.1 L511.7,89.0 L514.8,95.8 L518.0,86.2 L521.2,95.3 L524.4,104.5 L527.5,96.8 L530.7,104.1 L533.9,103.9 L537.0,96.9 L540.2,98.9 L543.4,102.6 L546.5,104.7 L549.7,105.5 L552.9,94.5 L556.1,103.4 L559.2,101.1 L562.4,88.3 L565.6,100.4 L568.7,91.4 L571.9,89.7 L575.1,100.3 L578.2,111.1 L581.4,104.0 L584.6,97.9 L587.7,95.5 L590.9,97.6 L594.1,86.8 L597.3,87.2 L600.4,100.7 L603.6,88.1 L606.8,93.0 L609.9,98.2 L613.1,97.3 L616.3,82.2 L619.4,84.0 L622.6,103.4 L625.8,101.5 L628.9,101.5 L632.1,100.6 L635.3,102.4 L638.5,109.0 L641.6,97.4 L644.8,105.3 L648.0,104.6 L651.1,105.2" fill="none" stroke="#d83444" stroke-width="0.95" stroke-linejoin="round" stroke-linecap="round"/>
<path d="M416.6,90.6 L419.8,95.8 L422.9,97.5 L426.1,94.4 L429.3,91.4 L432.4,87.9 L435.6,100.2 L438.8,98.1 L442.0,99.2 L445.1,104.4 L448.3,92.8 L451.5,101.7 L454.6,95.9 L457.8,85.3 L461.0,94.8 L464.1,97.5 L467.3,100.2 L470.5,88.2 L473.6,101.3 L476.8,101.3 L480.0,103.9 L483.2,103.0 L486.3,101.7 L489.5,94.5 L492.7,97.5 L495.8,102.7 L499.0,89.7 L502.2,101.0 L505.3,101.6 L508.5,106.5 L511.7,113.6 L514.8,108.0 L518.0,98.4 L521.2,106.0 L524.4,113.6 L527.5,104.9 L530.7,103.7 L533.9,95.9 L537.0,94.9 L540.2,102.4 L543.4,101.8 L546.5,113.1 L549.7,97.0 L552.9,99.2 L556.1,84.6 L559.2,90.6 L562.4,95.9 L565.6,75.6 L568.7,105.9 L571.9,113.6 L575.1,107.5 L578.2,92.1 L581.4,107.9 L584.6,97.9 L587.7,99.4 L590.9,84.3 L594.1,70.4 L597.3,112.5 L600.4,99.6 L603.6,96.7 L606.8,101.8 L609.9,102.8 L613.1,101.7 L616.3,100.0 L619.4,103.1 L622.6,112.5 L625.8,98.0 L628.9,106.6 L632.1,104.0 L635.3,102.7 L638.5,98.6 L641.6,109.3 L644.8,96.7 L648.0,93.8 L651.1,92.1" fill="none" stroke="#d83444" stroke-width="0.95" stroke-linejoin="round" stroke-linecap="round"/>
<path d="M416.6,94.7 L419.8,113.0 L422.9,113.6 L426.1,107.0 L429.3,94.3 L432.4,104.3 L435.6,87.7 L438.8,90.5 L442.0,91.5 L445.1,99.0 L448.3,96.8 L451.5,101.0 L454.6,113.6 L457.8,109.9 L461.0,107.7 L464.1,95.8 L467.3,113.6 L470.5,104.0 L473.6,85.1 L476.8,105.6 L480.0,110.4 L483.2,107.7 L486.3,95.9 L489.5,107.4 L492.7,100.7 L495.8,105.1 L499.0,70.8 L502.2,111.9 L505.3,113.6 L508.5,112.7 L511.7,103.4 L514.8,113.0 L518.0,113.6 L521.2,112.2 L524.4,100.3 L527.5,100.8 L530.7,99.5 L533.9,99.9 L537.0,112.1 L540.2,110.4 L543.4,113.6 L546.5,113.6 L549.7,110.3 L552.9,113.6 L556.1,113.6 L559.2,113.6 L562.4,111.7 L565.6,101.8 L568.7,90.7 L571.9,81.5 L575.1,112.0 L578.2,113.6 L581.4,113.6 L584.6,104.3 L587.7,113.6 L590.9,113.6 L594.1,113.6 L597.3,110.7 L600.4,108.5 L603.6,102.6 L606.8,98.5 L609.9,103.9 L613.1,98.3 L616.3,89.3 L619.4,104.6 L622.6,111.2 L625.8,104.0 L628.9,92.3 L632.1,98.5 L635.3,96.5 L638.5,102.8 L641.6,97.8 L644.8,107.2 L648.0,100.9 L651.1,101.4" fill="none" stroke="#d83444" stroke-width="0.95" stroke-linejoin="round" stroke-linecap="round"/>
<path d="M416.6,78.7 L419.8,68.1 L422.9,59.2 L426.1,49.9 L429.3,60.9 L432.4,59.0 L435.6,68.4 L438.8,67.1 L442.0,56.2 L445.1,60.5 L448.3,52.1 L451.5,55.4 L454.6,45.9 L457.8,42.5 L461.0,44.0 L464.1,55.4 L467.3,56.2 L470.5,59.5 L473.6,47.4 L476.8,50.4 L480.0,54.6 L483.2,57.7 L486.3,52.4 L489.5,56.1 L492.7,54.7 L495.8,55.6 L499.0,46.1 L502.2,45.2 L505.3,62.5 L508.5,32.6 L511.7,50.9 L514.8,57.0 L518.0,50.4 L521.2,32.6 L524.4,47.4 L527.5,50.4 L530.7,48.4 L533.9,44.6 L537.0,60.1 L540.2,63.0 L543.4,67.1 L546.5,33.4 L549.7,53.6 L552.9,54.0 L556.1,54.3 L559.2,61.3 L562.4,65.3 L565.6,55.5 L568.7,59.2 L571.9,49.2 L575.1,53.9 L578.2,55.2 L581.4,57.9 L584.6,57.5 L587.7,54.9 L590.9,32.6 L594.1,34.8 L597.3,56.0 L600.4,52.7 L603.6,49.1 L606.8,57.9 L609.9,59.4 L613.1,57.2 L616.3,71.7 L619.4,55.2 L622.6,53.8 L625.8,53.4 L628.9,50.8 L632.1,48.9 L635.3,33.1 L638.5,40.3 L641.6,38.5 L644.8,49.4 L648.0,48.8 L651.1,51.7" fill="none" stroke="#40d040" stroke-width="0.95" stroke-linejoin="round" stroke-linecap="round"/>
<path d="M416.6,92.9 L419.8,77.3 L422.9,70.0 L426.1,60.0 L429.3,55.9 L432.4,62.0 L435.6,69.0 L438.8,62.4 L442.0,60.2 L445.1,60.1 L448.3,54.1 L451.5,58.7 L454.6,33.7 L457.8,48.6 L461.0,49.3 L464.1,56.7 L467.3,64.7 L470.5,63.6 L473.6,57.9 L476.8,53.1 L480.0,40.0 L483.2,52.6 L486.3,56.8 L489.5,61.4 L492.7,60.1 L495.8,62.5 L499.0,50.7 L502.2,56.2 L505.3,57.2 L508.5,52.3 L511.7,62.7 L514.8,61.3 L518.0,58.1 L521.2,74.7 L524.4,76.9 L527.5,63.6 L530.7,63.3 L533.9,78.4 L537.0,76.9 L540.2,78.0 L543.4,69.7 L546.5,56.4 L549.7,61.3 L552.9,46.6 L556.1,58.0 L559.2,64.5 L562.4,50.3 L565.6,40.7 L568.7,48.0 L571.9,43.1 L575.1,44.2 L578.2,49.4 L581.4,70.9 L584.6,69.9 L587.7,64.4 L590.9,62.5 L594.1,58.5 L597.3,63.0 L600.4,53.5 L603.6,45.5 L606.8,50.1 L609.9,51.3 L613.1,51.0 L616.3,46.8 L619.4,51.3 L622.6,56.7 L625.8,54.2 L628.9,55.4 L632.1,65.1 L635.3,56.7 L638.5,54.4 L641.6,51.5 L644.8,54.6 L648.0,48.3 L651.1,46.1" fill="none" stroke="#40d040" stroke-width="0.95" stroke-linejoin="round" stroke-linecap="round"/>
<path d="M416.6,90.6 L419.8,79.5 L422.9,82.8 L426.1,74.7 L429.3,74.8 L432.4,76.5 L435.6,65.1 L438.8,72.1 L442.0,32.6 L445.1,60.7 L448.3,75.7 L451.5,65.5 L454.6,77.2 L457.8,81.6 L461.0,76.7 L464.1,72.3 L467.3,75.0 L470.5,87.2 L473.6,85.8 L476.8,73.5 L480.0,68.6 L483.2,78.5 L486.3,73.8 L489.5,73.0 L492.7,67.4 L495.8,76.2 L499.0,64.5 L502.2,69.8 L505.3,60.1 L508.5,50.9 L511.7,70.8 L514.8,71.2 L518.0,68.6 L521.2,37.8 L524.4,78.0 L527.5,76.4 L530.7,66.7 L533.9,64.3 L537.0,75.0 L540.2,77.8 L543.4,69.2 L546.5,74.9 L549.7,69.7 L552.9,63.8 L556.1,66.3 L559.2,86.1 L562.4,61.3 L565.6,59.5 L568.7,56.8 L571.9,59.6 L575.1,76.6 L578.2,62.3 L581.4,65.0 L584.6,44.1 L587.7,67.5 L590.9,67.2 L594.1,69.7 L597.3,57.7 L600.4,60.1 L603.6,65.5 L606.8,74.6 L609.9,68.2 L613.1,67.3 L616.3,65.5 L619.4,58.9 L622.6,59.3 L625.8,64.0 L628.9,64.8 L632.1,65.0 L635.3,61.5 L638.5,59.7 L641.6,51.9 L644.8,74.0 L648.0,61.4 L651.1,65.9" fill="none" stroke="#40d040" stroke-width="0.95" stroke-linejoin="round" stroke-linecap="round"/>
<path d="M416.6,94.7 L419.8,79.4 L422.9,66.1 L426.1,76.6 L429.3,77.1 L432.4,86.5 L435.6,82.5 L438.8,85.3 L442.0,68.7 L445.1,66.9 L448.3,76.4 L451.5,73.2 L454.6,68.2 L457.8,61.0 L461.0,62.6 L464.1,63.1 L467.3,71.6 L470.5,68.4 L473.6,71.1 L476.8,79.8 L480.0,84.5 L483.2,71.2 L486.3,57.0 L489.5,80.5 L492.7,71.7 L495.8,77.0 L499.0,67.0 L502.2,80.4 L505.3,72.7 L508.5,82.4 L511.7,87.5 L514.8,87.7 L518.0,78.2 L521.2,80.3 L524.4,84.7 L527.5,70.6 L530.7,81.6 L533.9,78.3 L537.0,75.6 L540.2,82.4 L543.4,78.6 L546.5,74.3 L549.7,79.0 L552.9,70.6 L556.1,80.2 L559.2,86.5 L562.4,82.2 L565.6,88.8 L568.7,81.6 L571.9,81.3 L575.1,83.6 L578.2,75.9 L581.4,76.9 L584.6,99.8 L587.7,89.9 L590.9,84.4 L594.1,79.5 L597.3,85.6 L600.4,89.8 L603.6,72.1 L606.8,77.2 L609.9,94.8 L613.1,93.9 L616.3,88.6 L619.4,97.8 L622.6,88.5 L625.8,76.2 L628.9,84.4 L632.1,73.5 L635.3,86.3 L638.5,79.0 L641.6,74.9 L644.8,69.7 L648.0,76.4 L651.1,73.1" fill="none" stroke="#40d040" stroke-width="0.95" stroke-linejoin="round" stroke-linecap="round"/>
<path d="M416.6,22.0 L416.6,120.5" stroke="#5656b4" stroke-width="1.0"/>
<path d="M407.1,35.4 L407.1,105.2 M402.6,105.2 L407.1,105.2 M402.6,87.8 L407.1,87.8 M402.6,70.3 L407.1,70.3 M402.6,52.9 L407.1,52.9 M402.6,35.4 L407.1,35.4 M416.6,120.5 L654.3,120.5 M416.6,120.5 L416.6,125.0 M495.8,120.5 L495.8,125.0 M575.1,120.5 L575.1,125.0 M654.3,120.5 L654.3,125.0" stroke="#666" stroke-width="1" fill="none"/>
<text transform="translate(395.6,52.9) rotate(-90)" text-anchor="middle" font-size="11.5" fill="#222" stroke="#222" stroke-width="0.18">0.040</text>
<text transform="translate(395.6,105.2) rotate(-90)" text-anchor="middle" font-size="11.5" fill="#222" stroke="#222" stroke-width="0.18">0.025</text>
<text transform="translate(377.9,72.95) rotate(-90)" text-anchor="middle" font-size="12.5" fill="#222" stroke="#222" stroke-width="0.18">Gap with target</text>
<text x="416.6" y="138.2" text-anchor="middle" font-size="11.9" fill="#222" stroke="#222" stroke-width="0.18">150000</text>
<text x="495.8" y="138.2" text-anchor="middle" font-size="11.9" fill="#222" stroke="#222" stroke-width="0.18">200000</text>
<text x="575.1" y="138.2" text-anchor="middle" font-size="11.9" fill="#222" stroke="#222" stroke-width="0.18">250000</text>
<text x="654.3" y="138.2" text-anchor="middle" font-size="11.9" fill="#222" stroke="#222" stroke-width="0.18">300000</text>
<text x="533.85" y="156.4" text-anchor="middle" font-size="11.7" fill="#222" stroke="#222" stroke-width="0.18">Generations</text>
<rect x="363.5" y="358.6" width="320.79999999999995" height="146.7" fill="#fff" stroke="#333" stroke-width="1.5"/>
<path d="M416.5,380.0 L419.7,389.5 L423.0,391.1 L426.2,390.7 L429.4,389.2 L432.6,388.0 L435.9,393.9 L439.1,389.8 L442.3,391.3 L445.6,394.7 L448.8,383.9 L452.0,388.8 L455.3,391.5 L458.5,392.5 L461.7,394.1 L464.9,391.6 L468.2,386.9 L471.4,391.2 L474.6,400.2 L477.9,410.2 L481.1,405.4 L484.3,400.8 L487.5,398.8 L490.8,403.0 L494.0,406.2 L497.2,404.1 L500.5,406.2 L503.7,403.8 L506.9,405.3 L510.2,402.7 L513.4,393.6 L516.6,393.9 L519.8,405.5 L523.1,395.3 L526.3,398.0 L529.5,408.1 L532.8,402.8 L536.0,403.3 L539.2,409.6 L542.4,410.3 L545.7,412.4 L548.9,414.6 L552.1,410.5 L555.4,384.0 L558.6,407.5 L561.8,397.8 L565.0,413.2 L568.3,404.6 L571.5,409.4 L574.7,416.7 L578.0,420.3 L581.2,416.0 L584.4,412.8 L587.7,415.5 L590.9,416.3 L594.1,406.3 L597.3,408.8 L600.6,405.1 L603.8,404.9 L607.0,410.7 L610.3,396.5 L613.5,400.3 L616.7,403.4 L619.9,401.5 L623.2,411.4 L626.4,408.1 L629.6,407.2 L632.9,405.4 L636.1,396.2 L639.3,394.2 L642.6,399.0 L645.8,388.0 L649.0,382.9 L652.2,380.6 L655.5,374.5" fill="none" stroke="#d83444" stroke-width="0.95" stroke-linejoin="round" stroke-linecap="round"/>
<path d="M416.5,408.0 L419.7,406.7 L423.0,405.2 L426.2,402.0 L429.4,397.7 L432.6,402.9 L435.9,404.3 L439.1,414.0 L442.3,412.6 L445.6,398.8 L448.8,405.6 L452.0,401.6 L455.3,405.9 L458.5,405.9 L461.7,399.5 L464.9,409.7 L468.2,408.9 L471.4,401.4 L474.6,410.9 L477.9,405.9 L481.1,407.2 L484.3,402.2 L487.5,386.0 L490.8,367.0 L494.0,384.0 L497.2,406.9 L500.5,393.3 L503.7,395.4 L506.9,392.8 L510.2,392.7 L513.4,398.1 L516.6,404.7 L519.8,395.6 L523.1,389.9 L526.3,392.9 L529.5,393.6 L532.8,404.2 L536.0,394.0 L539.2,390.9 L542.4,388.1 L545.7,395.8 L548.9,401.9 L552.1,395.5 L555.4,396.1 L558.6,396.6 L561.8,406.6 L565.0,408.4 L568.3,407.2 L571.5,413.1 L574.7,417.5 L578.0,410.8 L581.2,411.4 L584.4,413.5 L587.7,413.5 L590.9,416.5 L594.1,408.8 L597.3,415.9 L600.6,416.8 L603.8,410.5 L607.0,415.6 L610.3,409.1 L613.5,411.7 L616.7,410.9 L619.9,405.9 L623.2,408.9 L626.4,399.3 L629.6,400.2 L632.9,394.9 L636.1,410.1 L639.3,409.4 L642.6,401.2 L645.8,400.6 L649.0,396.5 L652.2,400.0 L655.5,404.1" fill="none" stroke="#d83444" stroke-width="0.95" stroke-linejoin="round" stroke-linecap="round"/>
<path d="M416.5,412.0 L419.7,415.2 L423.0,414.9 L426.2,411.7 L429.4,409.2 L432.6,410.9 L435.9,416.2 L439.1,407.3 L442.3,415.7 L445.6,418.8 L448.8,423.7 L452.0,418.4 L455.3,422.4 L458.5,416.8 L461.7,407.0 L464.9,407.9 L468.2,415.9 L471.4,412.9 L474.6,411.5 L477.9,415.3 L481.1,420.3 L484.3,408.0 L487.5,412.3 L490.8,402.2 L494.0,405.6 L497.2,408.1 L500.5,409.9 L503.7,405.0 L506.9,412.6 L510.2,417.6 L513.4,418.8 L516.6,407.3 L519.8,408.6 L523.1,411.7 L526.3,418.4 L529.5,416.2 L532.8,410.4 L536.0,408.4 L539.2,403.7 L542.4,415.6 L545.7,409.2 L548.9,401.9 L552.1,409.0 L555.4,402.3 L558.6,402.0 L561.8,412.8 L565.0,419.5 L568.3,409.7 L571.5,407.2 L574.7,408.0 L578.0,414.0 L581.2,419.9 L584.4,416.8 L587.7,406.4 L590.9,406.5 L594.1,414.6 L597.3,413.7 L600.6,418.6 L603.8,413.6 L607.0,409.3 L610.3,400.4 L613.5,410.6 L616.7,408.3 L619.9,416.2 L623.2,416.1 L626.4,414.0 L629.6,416.4 L632.9,410.9 L636.1,388.0 L639.3,418.7 L642.6,417.3 L645.8,422.7 L649.0,413.0 L652.2,414.8 L655.5,407.4" fill="none" stroke="#d83444" stroke-width="0.95" stroke-linejoin="round" stroke-linecap="round"/>
<path d="M416.5,418.0 L419.7,433.0 L423.0,420.5 L426.2,420.8 L429.4,419.1 L432.6,421.6 L435.9,421.3 L439.1,421.4 L442.3,423.1 L445.6,411.6 L448.8,417.2 L452.0,421.8 L455.3,418.4 L458.5,423.2 L461.7,424.5 L464.9,433.0 L468.2,433.0 L471.4,426.3 L474.6,430.9 L477.9,428.4 L481.1,419.9 L484.3,423.2 L487.5,416.6 L490.8,425.3 L494.0,422.9 L497.2,422.6 L500.5,433.0 L503.7,433.0 L506.9,432.5 L510.2,430.9 L513.4,422.4 L516.6,427.2 L519.8,425.9 L523.1,423.5 L526.3,416.5 L529.5,411.1 L532.8,422.7 L536.0,420.2 L539.2,418.6 L542.4,417.8 L545.7,414.7 L548.9,414.6 L552.1,418.7 L555.4,427.2 L558.6,422.2 L561.8,423.5 L565.0,417.6 L568.3,414.6 L571.5,411.7 L574.7,423.7 L578.0,424.8 L581.2,418.0 L584.4,418.4 L587.7,410.3 L590.9,414.2 L594.1,418.4 L597.3,421.3 L600.6,418.0 L603.8,413.7 L607.0,415.6 L610.3,419.5 L613.5,418.5 L616.7,413.0 L619.9,421.5 L623.2,424.1 L626.4,420.8 L629.6,412.4 L632.9,411.3 L636.1,406.1 L639.3,426.4 L642.6,413.6 L645.8,407.3 L649.0,413.6 L652.2,423.0 L655.5,417.1" fill="none" stroke="#d83444" stroke-width="0.95" stroke-linejoin="round" stroke-linecap="round"/>
<path d="M416.5,398.0 L419.7,398.8 L423.0,395.3 L426.2,394.8 L429.4,401.4 L432.6,404.7 L435.9,407.5 L439.1,410.6 L442.3,410.8 L445.6,409.6 L448.8,410.6 L452.0,408.1 L455.3,415.2 L458.5,416.0 L461.7,416.8 L464.9,421.5 L468.2,422.5 L471.4,419.9 L474.6,415.9 L477.9,415.1 L481.1,420.1 L484.3,419.4 L487.5,418.0 L490.8,415.6 L494.0,422.4 L497.2,429.7 L500.5,431.2 L503.7,433.3 L506.9,434.6 L510.2,435.0 L513.4,433.6 L516.6,436.6 L519.8,436.0 L523.1,436.9 L526.3,439.3 L529.5,435.8 L532.8,434.9 L536.0,434.5 L539.2,435.2 L542.4,434.4 L545.7,434.3 L548.9,435.5 L552.1,436.4 L555.4,432.7 L558.6,434.5 L561.8,432.9 L565.0,435.5 L568.3,433.2 L571.5,434.8 L574.7,435.2 L578.0,432.0 L581.2,435.2 L584.4,437.2 L587.7,436.8 L590.9,435.1 L594.1,442.3 L597.3,439.0 L600.6,436.0 L603.8,440.2 L607.0,439.3 L610.3,437.5 L613.5,439.0 L616.7,438.6 L619.9,438.6 L623.2,437.6 L626.4,433.2 L629.6,436.2 L632.9,435.2 L636.1,432.1 L639.3,432.4 L642.6,431.0 L645.8,427.4 L649.0,431.0 L652.2,430.4 L655.5,429.8" fill="none" stroke="#40d040" stroke-width="0.95" stroke-linejoin="round" stroke-linecap="round"/>
<path d="M416.5,406.0 L419.7,404.0 L423.0,403.6 L426.2,409.0 L429.4,416.1 L432.6,421.0 L435.9,424.8 L439.1,430.6 L442.3,439.2 L445.6,444.4 L448.8,444.8 L452.0,441.6 L455.3,441.0 L458.5,438.7 L461.7,440.8 L464.9,440.8 L468.2,440.7 L471.4,443.1 L474.6,444.3 L477.9,438.3 L481.1,441.0 L484.3,443.1 L487.5,448.7 L490.8,444.3 L494.0,443.7 L497.2,446.3 L500.5,439.5 L503.7,437.7 L506.9,446.2 L510.2,446.5 L513.4,442.5 L516.6,442.5 L519.8,444.8 L523.1,440.8 L526.3,439.5 L529.5,442.9 L532.8,446.2 L536.0,448.6 L539.2,447.1 L542.4,443.8 L545.7,444.4 L548.9,444.3 L552.1,445.8 L555.4,445.0 L558.6,447.2 L561.8,449.5 L565.0,448.6 L568.3,444.6 L571.5,444.7 L574.7,444.0 L578.0,445.6 L581.2,444.1 L584.4,448.7 L587.7,447.1 L590.9,448.8 L594.1,446.6 L597.3,448.5 L600.6,446.0 L603.8,448.4 L607.0,445.4 L610.3,444.6 L613.5,444.4 L616.7,445.9 L619.9,445.6 L623.2,440.9 L626.4,445.5 L629.6,443.5 L632.9,443.0 L636.1,441.6 L639.3,441.2 L642.6,437.2 L645.8,440.4 L649.0,439.9 L652.2,436.8 L655.5,435.0" fill="none" stroke="#40d040" stroke-width="0.95" stroke-linejoin="round" stroke-linecap="round"/>
<path d="M416.5,425.0 L419.7,423.8 L423.0,428.0 L426.2,428.4 L429.4,427.8 L432.6,434.7 L435.9,435.5 L439.1,438.6 L442.3,441.4 L445.6,441.6 L448.8,441.5 L452.0,440.9 L455.3,436.3 L458.5,440.4 L461.7,439.3 L464.9,440.5 L468.2,441.8 L471.4,444.5 L474.6,445.1 L477.9,447.8 L481.1,446.9 L484.3,447.3 L487.5,448.5 L490.8,448.1 L494.0,447.6 L497.2,443.1 L500.5,442.6 L503.7,443.9 L506.9,445.7 L510.2,446.8 L513.4,444.6 L516.6,446.7 L519.8,450.1 L523.1,454.2 L526.3,453.4 L529.5,445.2 L532.8,449.6 L536.0,449.1 L539.2,447.3 L542.4,447.4 L545.7,447.0 L548.9,452.2 L552.1,452.1 L555.4,451.1 L558.6,451.0 L561.8,447.3 L565.0,448.6 L568.3,446.9 L571.5,445.4 L574.7,449.8 L578.0,448.4 L581.2,450.2 L584.4,451.0 L587.7,452.5 L590.9,455.2 L594.1,454.1 L597.3,450.8 L600.6,449.6 L603.8,451.5 L607.0,448.0 L610.3,449.0 L613.5,449.9 L616.7,448.3 L619.9,443.7 L623.2,446.5 L626.4,450.3 L629.6,450.1 L632.9,447.6 L636.1,444.9 L639.3,446.7 L642.6,445.4 L645.8,447.1 L649.0,444.6 L652.2,445.6 L655.5,445.4" fill="none" stroke="#40d040" stroke-width="0.95" stroke-linejoin="round" stroke-linecap="round"/>
<path d="M416.5,430.0 L419.7,426.1 L423.0,426.8 L426.2,432.1 L429.4,433.5 L432.6,433.3 L435.9,440.2 L439.1,441.3 L442.3,437.7 L445.6,442.5 L448.8,445.3 L452.0,445.7 L455.3,447.1 L458.5,451.1 L461.7,450.6 L464.9,449.4 L468.2,443.1 L471.4,447.1 L474.6,449.9 L477.9,448.5 L481.1,455.1 L484.3,455.3 L487.5,450.1 L490.8,452.8 L494.0,452.1 L497.2,455.7 L500.5,454.8 L503.7,457.5 L506.9,451.1 L510.2,456.2 L513.4,454.8 L516.6,451.3 L519.8,453.4 L523.1,454.5 L526.3,449.9 L529.5,453.2 L532.8,452.9 L536.0,454.2 L539.2,458.8 L542.4,459.1 L545.7,454.6 L548.9,456.3 L552.1,457.0 L555.4,455.8 L558.6,455.8 L561.8,456.9 L565.0,454.4 L568.3,455.1 L571.5,459.1 L574.7,455.5 L578.0,454.2 L581.2,456.0 L584.4,454.6 L587.7,460.7 L590.9,460.6 L594.1,458.6 L597.3,464.2 L600.6,455.5 L603.8,456.7 L607.0,458.9 L610.3,460.1 L613.5,458.4 L616.7,455.2 L619.9,459.6 L623.2,458.2 L626.4,455.3 L629.6,454.0 L632.9,449.9 L636.1,455.1 L639.3,452.3 L642.6,451.6 L645.8,451.3 L649.0,449.3 L652.2,449.6 L655.5,448.8" fill="none" stroke="#40d040" stroke-width="0.95" stroke-linejoin="round" stroke-linecap="round"/>
<path d="M416.5,363.3 L416.5,463.5" stroke="#5656b4" stroke-width="1.0"/>
<path d="M406.3,377.5 L406.3,443.2 M401.8,443.2 L406.3,443.2 M401.8,421.3 L406.3,421.3 M401.8,399.4 L406.3,399.4 M401.8,377.5 L406.3,377.5 M416.5,463.5 L658.7,463.5 M416.5,463.5 L416.5,468.0 M497.2,463.5 L497.2,468.0 M578.0,463.5 L578.0,468.0 M658.7,463.5 L658.7,468.0" stroke="#444" stroke-width="1" fill="none"/>
<text transform="translate(394.6,399.4) rotate(-90)" text-anchor="middle" font-size="11.75" fill="#222" stroke="#222" stroke-width="0.18">12000</text>
<text transform="translate(394.6,443.2) rotate(-90)" text-anchor="middle" font-size="11.75" fill="#222" stroke="#222" stroke-width="0.18">8000</text>
<text transform="translate(376.7,413.05) rotate(-90)" text-anchor="middle" font-size="11.9" fill="#222" stroke="#222" stroke-width="0.18">Genome size</text>
<text x="416.5" y="480.9" text-anchor="middle" font-size="12.05" fill="#222" stroke="#222" stroke-width="0.18">150000</text>
<text x="497.2" y="480.9" text-anchor="middle" font-size="12.05" fill="#222" stroke="#222" stroke-width="0.18">200000</text>
<text x="578.0" y="480.9" text-anchor="middle" font-size="12.05" fill="#222" stroke="#222" stroke-width="0.18">250000</text>
<text x="658.7" y="480.9" text-anchor="middle" font-size="12.05" fill="#222" stroke="#222" stroke-width="0.18">300000</text>
<text x="536.0" y="500.1" text-anchor="middle" font-size="11.95" fill="#222" stroke="#222" stroke-width="0.18">Generations</text></svg>
</body></html>
